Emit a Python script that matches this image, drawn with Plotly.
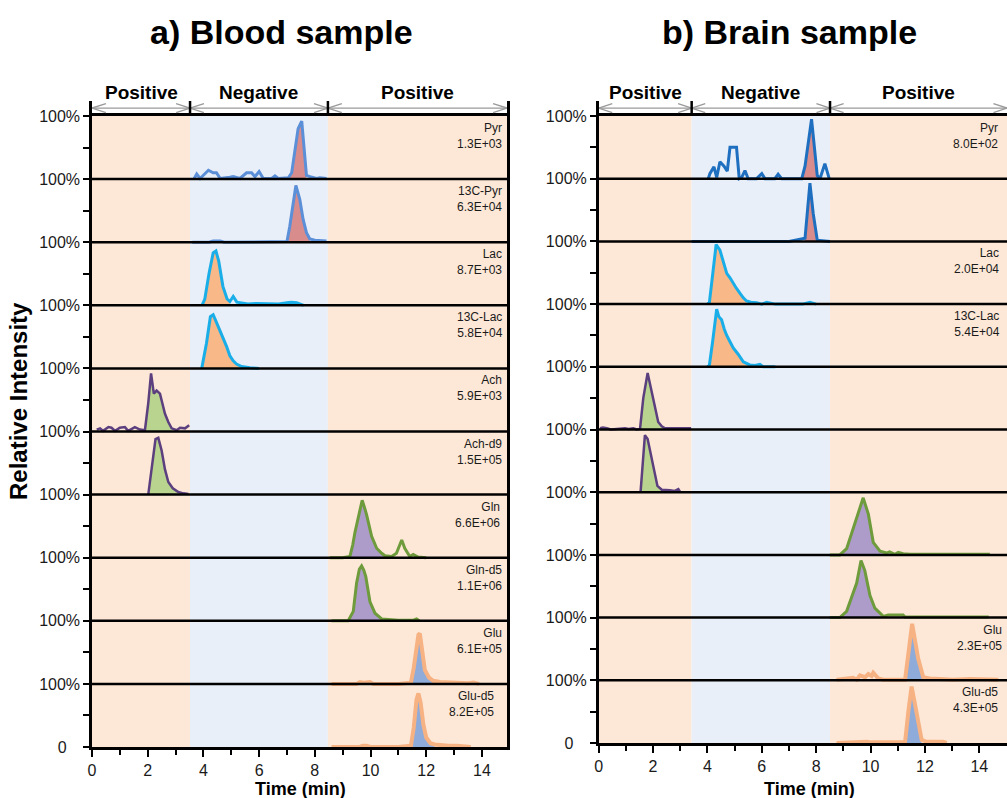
import plotly.graph_objects as go

# ---------------- labels ----------------
compounds = ["Pyr", "13C-Pyr", "Lac", "13C-Lac", "Ach", "Ach-d9", "Gln", "Gln-d5", "Glu", "Glu-d5"]
blood_counts = ["1.3E+03", "6.3E+04", "8.7E+03", "5.8E+04", "5.9E+03", "1.5E+05", "6.6E+06", "1.1E+06", "6.1E+05", "8.2E+05"]
brain_counts = ["8.0E+02", "9.5E+04", "2.0E+04", "5.4E+04", "4.3E+04", "1.9E+05", "5.4E+06", "7.4E+05", "2.3E+05", "4.3E+05"]
x_ticks = [0, 2, 4, 6, 8, 10, 12, 14]
x_minor_ticks = [1, 3, 5, 7, 9, 11, 13]
y_ticks = [0, 1, 2, 3, 4, 5, 6, 7, 8, 9, 10]
y_ticktext = ["0&nbsp;&nbsp;&nbsp;"] + ["100%"] * 10
y_minor_ticks = [0.5, 1.5, 2.5, 3.5, 4.5, 5.5, 6.5, 7.5, 8.5, 9.5]
mode_labels = ["Positive", "Negative", "Positive"]
blood_mode_edges = [0, 3.52, 8.47, 14.9]
brain_mode_edges = [0, 3.42, 8.51, 15.02]

# ---------------- blood chromatograms (time min, fraction of 100%) ----------------
blood_pyr_t = [3.63, 3.67, 3.76, 3.88, 4.18, 4.35, 4.47, 4.6, 4.95, 5.07, 5.31, 5.55, 5.73, 5.85, 6.0, 6.15, 6.45, 6.57, 6.69, 7.05, 7.17, 7.4, 7.53, 7.62, 7.7, 7.83, 7.94, 8.06, 8.18, 8.42]
blood_pyr_i = [0.01, 0.01, 0.08, 0.01, 0.14, 0.10, 0.10, 0.01, 0.03, 0.04, 0.01, 0.10, 0.10, 0.04, 0.12, 0.01, 0.01, 0.05, 0.01, 0.02, 0.10, 0.80, 0.92, 0.45, 0.06, 0.04, 0.02, 0.01, 0.02, 0.01]
blood_13cpyr_t = [3.6, 4.2, 4.35, 4.6, 4.75, 5.5, 6.5, 7.0, 7.1, 7.2, 7.32, 7.46, 7.58, 7.7, 7.82, 8.0, 8.2, 8.42]
blood_13cpyr_i = [0.0, 0.0, 0.02, 0.02, 0.0, 0.0, 0.0, 0.01, 0.25, 0.55, 0.9, 0.68, 0.36, 0.15, 0.05, 0.03, 0.03, 0.02]
blood_lac_t = [3.95, 4.05, 4.2, 4.35, 4.45, 4.55, 4.7, 4.85, 4.95, 5.07, 5.2, 5.35, 5.6, 5.9, 6.3, 6.7, 7.0, 7.15, 7.35, 7.6]
blood_lac_i = [0.0, 0.1, 0.5, 0.83, 0.86, 0.7, 0.3, 0.1, 0.06, 0.14, 0.05, 0.04, 0.02, 0.03, 0.02, 0.02, 0.04, 0.05, 0.04, 0.0]
blood_13clac_t = [3.94, 4.11, 4.25, 4.35, 4.45, 4.6, 4.71, 4.83, 4.95, 5.07, 5.19, 5.37, 5.67, 6.0]
blood_13clac_i = [0.0, 0.4, 0.82, 0.85, 0.75, 0.6, 0.49, 0.35, 0.2, 0.12, 0.07, 0.03, 0.01, 0.0]
blood_ach_t = [0.17, 0.29, 0.4, 0.59, 0.7, 0.83, 1.0, 1.18, 1.3, 1.54, 1.72, 1.9, 2.02, 2.12, 2.22, 2.32, 2.44, 2.55, 2.62, 2.74, 2.86, 3.04, 3.16, 3.34, 3.49]
blood_ach_i = [0.03, 0.05, 0.01, 0.07, 0.06, 0.01, 0.06, 0.07, 0.01, 0.07, 0.03, 0.02, 0.45, 0.92, 0.6, 0.65, 0.6, 0.4, 0.28, 0.15, 0.05, 0.02, 0.06, 0.05, 0.1]
blood_achd9_t = [2.02, 2.15, 2.28, 2.38, 2.5, 2.62, 2.74, 2.9, 3.1, 3.28, 3.46]
blood_achd9_i = [0.0, 0.45, 0.88, 0.9, 0.7, 0.4, 0.2, 0.1, 0.04, 0.02, 0.01]
blood_gln_t = [8.54, 9.0, 9.26, 9.36, 9.44, 9.56, 9.7, 9.78, 9.86, 10.04, 10.22, 10.4, 10.52, 10.76, 10.93, 11.12, 11.23, 11.41, 11.53, 11.71, 12.0]
blood_gln_i = [0.0, 0.0, 0.02, 0.2, 0.4, 0.62, 0.91, 0.8, 0.68, 0.34, 0.15, 0.07, 0.03, 0.02, 0.07, 0.28, 0.15, 0.02, 0.05, 0.01, 0.0]
blood_glnd5_t = [8.6, 9.2, 9.38, 9.5, 9.6, 9.68, 9.76, 9.83, 9.98, 10.16, 10.4, 11.0, 11.55, 11.65, 11.75]
blood_glnd5_i = [0.0, 0.0, 0.15, 0.6, 0.82, 0.87, 0.8, 0.7, 0.3, 0.12, 0.03, 0.01, 0.01, 0.03, 0.0]
blood_glu_t = [8.6, 9.5, 9.62, 9.75, 9.98, 10.1, 11.0, 11.45, 11.55, 11.65, 11.72, 11.77, 11.85, 11.95, 12.1, 12.25, 12.5, 12.8, 13.1, 13.5, 13.7, 13.9]
blood_glu_i = [0.0, 0.0, 0.03, 0.02, 0.03, 0.0, 0.0, 0.02, 0.25, 0.6, 0.78, 0.8, 0.55, 0.22, 0.1, 0.05, 0.03, 0.02, 0.02, 0.01, 0.02, 0.0]
blood_glud5_t = [8.6, 9.6, 9.72, 9.85, 10.0, 11.0, 11.45, 11.55, 11.65, 11.72, 11.8, 11.9, 12.0, 12.15, 12.3, 12.5, 12.8, 13.1, 13.4, 13.6]
blood_glud5_i = [0.0, 0.0, 0.02, 0.02, 0.0, 0.0, 0.02, 0.3, 0.75, 0.85, 0.7, 0.35, 0.15, 0.06, 0.04, 0.03, 0.02, 0.02, 0.01, 0.0]
blood_fill = [(7.05, 7.7), (7.0, 7.9), (3.95, 4.95), (3.94, 5.67), (1.9, 2.95), (2.02, 3.46), (9.26, 10.52), (9.2, 10.4), (11.45, 12.5), (11.45, 12.4)]

# ---------------- brain chromatograms ----------------
brain_pyr_t = [4.03, 4.09, 4.24, 4.34, 4.46, 4.61, 4.73, 4.83, 5.01, 5.07, 5.17, 5.26, 5.38, 5.5, 5.81, 6.0, 6.12, 6.48, 6.6, 6.73, 7.47, 7.59, 7.83, 8.04, 8.14, 8.32, 8.48]
brain_pyr_i = [0.0, 0.08, 0.19, 0.02, 0.27, 0.2, 0.12, 0.5, 0.5, 0.5, 0.0, 0.02, 0.13, 0.0, 0.0, 0.08, 0.0, 0.0, 0.07, 0.0, 0.0, 0.2, 0.95, 0.05, 0.0, 0.24, 0.0]
brain_13cpyr_t = [3.42, 5.0, 7.0, 7.59, 7.69, 7.77, 7.89, 8.04, 8.51]
brain_13cpyr_i = [0.0, 0.0, 0.0, 0.05, 0.5, 0.93, 0.45, 0.02, 0.0]
brain_lac_t = [4.0, 4.07, 4.2, 4.32, 4.46, 4.6, 4.71, 4.83, 4.95, 5.07, 5.2, 5.32, 5.44, 5.6, 5.81, 6.0, 6.18, 6.5, 7.0, 7.5, 7.77, 8.0]
brain_lac_i = [0.0, 0.02, 0.5, 0.95, 0.86, 0.65, 0.49, 0.42, 0.33, 0.25, 0.17, 0.1, 0.05, 0.03, 0.02, 0.0, 0.03, 0.0, 0.0, 0.0, 0.03, 0.0]
brain_13clac_t = [4.0, 4.07, 4.19, 4.34, 4.42, 4.52, 4.62, 4.71, 4.83, 4.95, 5.13, 5.32, 5.56, 5.75, 5.93, 6.05, 6.5]
brain_13clac_i = [0.0, 0.02, 0.4, 0.92, 0.8, 0.75, 0.6, 0.5, 0.4, 0.3, 0.2, 0.08, 0.03, 0.02, 0.04, 0.0, 0.0]
brain_ach_t = [0.05, 0.15, 0.3, 0.45, 0.97, 1.1, 1.27, 1.4, 1.52, 1.64, 1.8, 1.95, 2.07, 2.19, 2.32, 2.44, 2.6, 2.8, 3.0, 3.2, 3.4]
brain_ach_i = [0.02, 0.03, 0.02, 0.0, 0.02, 0.01, 0.02, 0.0, 0.01, 0.5, 0.9, 0.6, 0.35, 0.12, 0.05, 0.02, 0.02, 0.02, 0.02, 0.02, 0.02]
brain_achd9_t = [1.54, 1.62, 1.7, 1.8, 1.89, 2.01, 2.16, 2.32, 2.45, 2.62, 2.8, 2.93, 2.99]
brain_achd9_i = [0.0, 0.5, 0.91, 0.85, 0.65, 0.4, 0.1, 0.04, 0.04, 0.03, 0.02, 0.05, 0.01]
brain_gln_t = [8.5, 8.87, 9.12, 9.36, 9.55, 9.73, 9.92, 10.1, 10.35, 10.59, 10.7, 10.78, 10.9, 11.02, 11.2, 11.45, 12.5, 13.5, 14.39]
brain_gln_i = [0.0, 0.0, 0.1, 0.42, 0.69, 0.91, 0.65, 0.2, 0.06, 0.03, 0.05, 0.03, 0.01, 0.04, 0.02, 0.01, 0.01, 0.01, 0.01]
brain_glnd5_t = [8.5, 8.87, 9.12, 9.36, 9.49, 9.65, 9.79, 9.98, 10.16, 10.47, 10.65, 10.8, 11.2, 11.27, 12.5, 13.5, 14.35]
brain_glnd5_i = [0.0, 0.0, 0.1, 0.4, 0.55, 0.91, 0.75, 0.35, 0.15, 0.02, 0.04, 0.04, 0.04, 0.01, 0.01, 0.01, 0.01]
brain_glu_t = [8.75, 9.12, 9.36, 9.49, 9.61, 9.8, 9.92, 10.04, 10.1, 10.28, 10.47, 11.0, 11.27, 11.4, 11.53, 11.65, 11.75, 11.94, 12.18, 12.55, 13.04, 13.65, 14.14, 14.7]
brain_glu_i = [0.01, 0.03, 0.04, 0.01, 0.08, 0.05, 0.1, 0.07, 0.12, 0.03, 0.01, 0.01, 0.01, 0.45, 0.9, 0.6, 0.35, 0.05, 0.03, 0.02, 0.01, 0.02, 0.02, 0.01]
brain_glud5_t = [8.75, 9.2, 9.36, 9.6, 9.87, 10.0, 11.0, 11.27, 11.39, 11.51, 11.6, 11.7, 11.88, 12.06, 12.67, 12.8]
brain_glud5_i = [0.0, 0.01, 0.02, 0.02, 0.02, 0.01, 0.01, 0.01, 0.5, 0.9, 0.7, 0.45, 0.05, 0.02, 0.02, 0.0]
brain_fill = [(7.47, 8.1), (7.55, 8.05), (4.0, 5.45), (4.0, 5.6), (1.5, 2.45), (1.54, 2.5), (8.87, 10.7), (8.87, 10.5), (11.27, 12.0), (11.27, 12.0)]

blood_times = [blood_pyr_t, blood_13cpyr_t, blood_lac_t, blood_13clac_t, blood_ach_t, blood_achd9_t, blood_gln_t, blood_glnd5_t, blood_glu_t, blood_glud5_t]
blood_vals = [blood_pyr_i, blood_13cpyr_i, blood_lac_i, blood_13clac_i, blood_ach_i, blood_achd9_i, blood_gln_i, blood_glnd5_i, blood_glu_i, blood_glud5_i]
brain_times = [brain_pyr_t, brain_13cpyr_t, brain_lac_t, brain_13clac_t, brain_ach_t, brain_achd9_t, brain_gln_t, brain_glnd5_t, brain_glu_t, brain_glud5_t]
brain_vals = [brain_pyr_i, brain_13cpyr_i, brain_lac_i, brain_13clac_i, brain_ach_i, brain_achd9_i, brain_gln_i, brain_glnd5_i, brain_glu_i, brain_glud5_i]

# ---------------- styles ----------------
W, H = 1007, 798
FONT = "Liberation Sans, Arial, sans-serif"
TXT = "#1a1a1a"
ORANGE_BG = "#fde8d7"
BLUE_BG = "#e9eff8"
fill_colors = ["#d98c8c", "#d98c8c", "#f8b887", "#f8b887", "#b9d48f", "#b9d48f", "#ad9bca", "#ad9bca", "#8eabda", "#8eabda"]
blood_line_colors = ["#5b8fd8", "#5b8fd8", "#1aaee8", "#1aaee8", "#5c3f7e", "#5c3f7e", "#6e9b3b", "#6e9b3b", "#f6b283", "#f6b283"]
brain_line_colors = ["#1f6fc0", "#1f6fc0", "#1aaee8", "#1aaee8", "#5c3f7e", "#5c3f7e", "#6e9b3b", "#6e9b3b", "#f6b283", "#f6b283"]
line_widths = [3, 3, 3, 3, 2.5, 2.5, 3, 3, 4, 4]
blood_label_x = [14.78, 14.8, 14.78, 14.84, 14.78, 14.8, 14.72, 14.78, 14.78, 14.5]
brain_label_x = [14.76, 15.13, 14.8, 14.84, 15.13, 15.24, 15.2, 15.1, 14.91, 14.76]


def py(p):
    return 1 - p / H


def pxx(p):
    return p / W


panels = [
    dict(xa="x", ya="y", hya="y3", times=blood_times, vals=blood_vals, fills=blood_fill,
         counts=blood_counts, colors=blood_line_colors, edges=blood_mode_edges,
         label_x=blood_label_x, title="a) Blood sample", title_x=281, xtitle_x=7.5,
         xdom=[pxx(92), pxx(507)], ydom=[py(747), py(116)], xrange=[0, 14.9], mirror=True),
    dict(xa="x2", ya="y2", hya="y4", times=brain_times, vals=brain_vals, fills=brain_fill,
         counts=brain_counts, colors=brain_line_colors, edges=brain_mode_edges,
         label_x=brain_label_x, title="b) Brain sample", title_x=789, xtitle_x=7.77,
         xdom=[pxx(598.7), 1.0], ydom=[py(743), py(116)], xrange=[0, 15.02], mirror=False),
]

fig = go.Figure()
shapes = []
annotations = []
n = len(compounds)

for p in panels:
    xa, ya, hya = p["xa"], p["ya"], p["hya"]
    e = p["edges"]
    for k in range(len(e) - 1):
        shapes.append(dict(type="rect", xref=xa, yref=ya, x0=e[k], x1=e[k + 1], y0=0, y1=n,
                           fillcolor=ORANGE_BG if mode_labels[k] == "Positive" else BLUE_BG,
                           line=dict(width=0), layer="below"))
    for k in range(n):
        off = n - 1 - k
        t, v = p["times"][k], p["vals"][k]
        t0, t1 = p["fills"][k]
        tw = [a for a, b in zip(t, v) if t0 <= a <= t1]
        vw = [b for a, b in zip(t, v) if t0 <= a <= t1]
        fig.add_trace(go.Scatter(x=tw + [tw[-1], tw[0]], y=[off + b for b in vw] + [off, off],
                                 fill="toself", fillcolor=fill_colors[k], mode="lines",
                                 line=dict(width=0), xaxis=xa, yaxis=ya, hoverinfo="skip"))
        fig.add_trace(go.Scatter(x=t, y=[off + b for b in v], mode="lines",
                                 line=dict(color=p["colors"][k], width=line_widths[k]),
                                 xaxis=xa, yaxis=ya, hoverinfo="skip"))
        annotations.append(dict(xref=xa, yref=ya, x=p["label_x"][k], y=off + 1, xanchor="right",
                                yanchor="top", yshift=-3, align="right", showarrow=False,
                                text=f"{compounds[k]}<br>{p['counts'][k]}",
                                font=dict(family=FONT, size=12, color=TXT)))
    for k in range(1, n):
        shapes.append(dict(type="line", xref=f"{xa} domain", yref=ya, x0=0, x1=1, y0=k, y1=k,
                           line=dict(color="black", width=2.5), layer="above"))
    ax_x, ax_y = [], []
    L, hh, yc = 0.5, 0.3, 0.53
    for k in range(len(e) - 1):
        a, b = e[k], e[k + 1]
        ax_x += [a, b, None, a + L, a, a + L, None, b - L, b, b - L, None]
        ax_y += [yc, yc, None, yc + hh, yc, yc - hh, None, yc + hh, yc, yc - hh, None]
        annotations.append(dict(xref=xa, yref="paper", x=(a + b) / 2, y=py(93), xanchor="center",
                                yanchor="middle", showarrow=False, text=f"<b>{mode_labels[k]}</b>",
                                font=dict(family=FONT, size=19, color="black")))
    fig.add_trace(go.Scatter(x=ax_x, y=ax_y, mode="lines", line=dict(color="#9a9a9a", width=1.3),
                             xaxis=xa, yaxis=hya, hoverinfo="skip"))
    tk_x, tk_y = [], []
    for b in e[1:3]:
        tk_x += [b, b, None]
        tk_y += [0, 1, None]
    fig.add_trace(go.Scatter(x=tk_x, y=tk_y, mode="lines", line=dict(color="black", width=2.5),
                             xaxis=xa, yaxis=hya, hoverinfo="skip"))
    annotations.append(dict(xref="paper", yref="paper", x=pxx(p["title_x"]), y=py(32), xanchor="center",
                            yanchor="middle", showarrow=False, text=f"<b>{p['title']}</b>",
                            font=dict(family=FONT, size=34, color="black")))
    annotations.append(dict(xref=xa, yref="paper", x=p["xtitle_x"], y=py(789), xanchor="center",
                            yanchor="middle", showarrow=False, text="<b>Time (min)</b>",
                            font=dict(family=FONT, size=18, color="black")))

annotations.append(dict(xref="paper", yref="paper", x=pxx(18), y=py(401), xanchor="center",
                        yanchor="middle", showarrow=False, textangle=-90,
                        text="<b>Relative Intensity</b>", font=dict(family=FONT, size=24, color="black")))


def xaxis_cfg(p):
    return dict(domain=p["xdom"], range=p["xrange"], anchor=p["ya"], showline=True, linecolor="black",
                linewidth=2.5, mirror=True, ticks="outside", tickvals=x_ticks, ticklen=7, tickwidth=2,
                tickcolor="black", showgrid=False, zeroline=False, automargin=False,
                tickfont=dict(family=FONT, size=16, color=TXT),
                minor=dict(tickvals=x_minor_ticks, ticks="outside", ticklen=5, tickwidth=2, tickcolor="black",
                           showgrid=False))


def yaxis_cfg(p):
    return dict(domain=p["ydom"], range=[0, n], anchor=p["xa"], showline=True, linecolor="black",
                linewidth=2.5, mirror=p["mirror"], ticks="outside", tickvals=y_ticks, ticktext=y_ticktext,
                ticklen=6, tickwidth=2, tickcolor="black", showgrid=False, zeroline=False, automargin=False,
                tickfont=dict(family=FONT, size=16, color=TXT),
                minor=dict(tickvals=y_minor_ticks, ticks="outside", ticklen=6, tickwidth=2, tickcolor="black",
                           showgrid=False))


def header_cfg(p):
    return dict(domain=[py(116), py(101)], range=[0, 1], anchor=p["xa"], showline=True, linecolor="black",
                linewidth=2.5, mirror=p["mirror"], showticklabels=False, ticks="", showgrid=False,
                zeroline=False, automargin=False)


fig.update_layout(
    width=W, height=H, margin=dict(l=0, r=0, t=0, b=0, pad=0, autoexpand=False),
    paper_bgcolor="white", plot_bgcolor="white", showlegend=False,
    xaxis=xaxis_cfg(panels[0]), yaxis=yaxis_cfg(panels[0]),
    xaxis2=xaxis_cfg(panels[1]), yaxis2=yaxis_cfg(panels[1]),
    yaxis3=header_cfg(panels[0]), yaxis4=header_cfg(panels[1]),
    shapes=shapes, annotations=annotations,
)

fig.write_html("out.html")
